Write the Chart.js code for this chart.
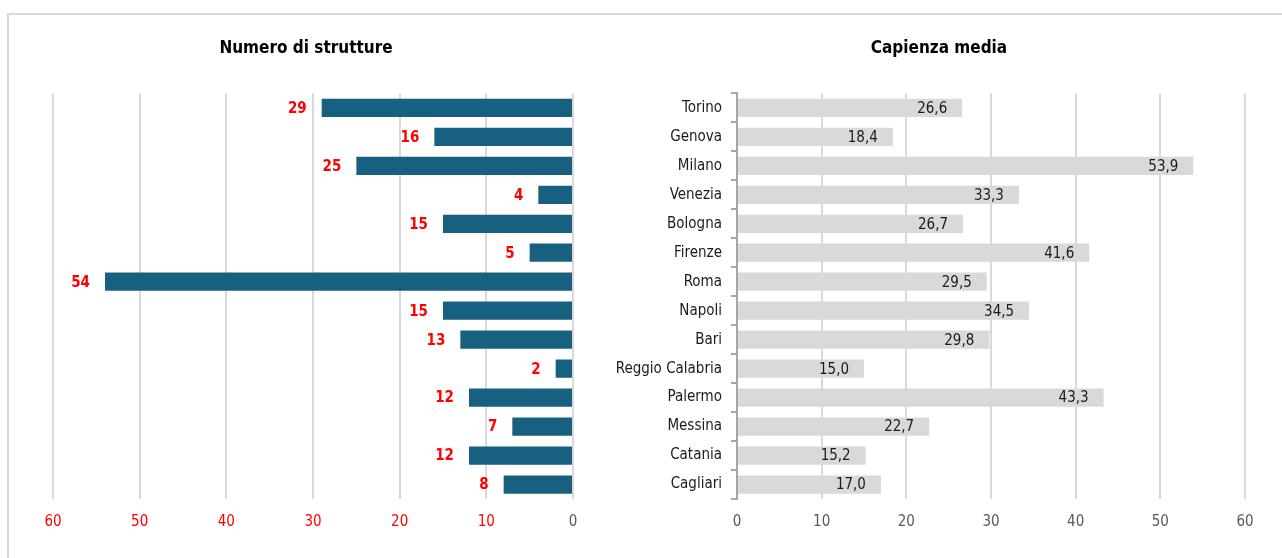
<!DOCTYPE html>
<html>
<head>
<meta charset="utf-8">
<script src="https://cdn.jsdelivr.net/npm/chart.js"></script>
<style>
  body { margin: 0; background: #fff; width: 1282px; height: 558px; overflow: hidden; position: relative; }
  #frame { position: absolute; left: 7px; top: 13px; width: 1300px; height: 600px; border: 2px solid #d9d9d9; box-sizing: border-box; }
  .box { position: absolute; top: 0; height: 558px; }
</style>
</head>
<body>
<div id="frame"></div>
<div class="box" style="left:0; width:600px"><canvas id="numChart" width="600" height="558"></canvas></div>
<div class="box" style="left:600px; width:682px"><canvas id="capChart" width="682" height="558"></canvas></div>
<script>
const cities = ["Torino", "Genova", "Milano", "Venezia", "Bologna", "Firenze", "Roma", "Napoli", "Bari", "Reggio Calabria", "Palermo", "Messina", "Catania", "Cagliari"];
const strutture = [29, 16, 25, 4, 15, 5, 54, 15, 13, 2, 12, 7, 12, 8];
const capienza = [26.6, 18.4, 53.9, 33.3, 26.7, 41.6, 29.5, 34.5, 29.8, 15.0, 43.3, 22.7, 15.2, 17.0];
const axisTicks = [0, 10, 20, 30, 40, 50, 60];

const FONT = "'Liberation Sans Narrow', 'Arial Narrow', 'DejaVu Sans Condensed', sans-serif";

// labels drawn next to each bar end
const valueLabels = {
  id: "valueLabels",
  afterDatasetsDraw(chart, args, opts) {
    const ctx = chart.ctx;
    const meta = chart.getDatasetMeta(0);
    ctx.save();
    ctx.font = opts.font;
    ctx.fillStyle = opts.color;
    ctx.textAlign = "right";
    ctx.textBaseline = "middle";
    meta.data.forEach((bar, i) => {
      const v = chart.data.datasets[0].data[i];
      ctx.fillText(opts.format(v), bar.x - opts.gap, bar.y + 1);
    });
    ctx.restore();
  }
};

// move the title centre to a given x
const titleShift = {
  id: "titleShift",
  afterLayout(chart, args, opts) {
    const t = chart.titleBlock;
    if (t) t.left = 2 * opts.center - t.right;
  }
};

new Chart(document.getElementById("numChart"), {
  type: "bar",
  data: {
    labels: cities,
    datasets: [{ data: strutture, backgroundColor: "#17607f", categoryPercentage: 1, barPercentage: 0.63 }]
  },
  options: {
    indexAxis: "y",
    responsive: false,
    animation: false,
    devicePixelRatio: 1,
    layout: { padding: { left: 53, right: 27, top: 0, bottom: 13 } },
    plugins: {
      legend: { display: false },
      tooltip: { enabled: false },
      title: {
        display: true, text: "Numero di strutture", color: "#000",
        font: { family: FONT, size: 17, weight: "bold" },
        padding: { top: 38, bottom: 35 }
      },
      titleShift: { center: 306 },
      valueLabels: {
        font: "bold 15px " + FONT, color: "#ff0000", gap: 15,
        format: v => String(v)
      }
    },
    scales: {
      x: {
        reverse: true, min: 0, max: 60,
        afterBuildTicks: s => { s.ticks = axisTicks.map(v => ({ value: v })); },
        grid: { color: "#d9d9d9", lineWidth: 2, drawTicks: false },
        border: { display: false },
        ticks: {
          padding: 14, maxRotation: 0,
          font: { family: FONT, size: 15 },
          color: c => c.tick.value === 0 ? "#595959" : "#ff0000"
        }
      },
      y: { display: false }
    }
  },
  plugins: [valueLabels, titleShift]
});

new Chart(document.getElementById("capChart"), {
  type: "bar",
  data: {
    labels: cities,
    datasets: [{ data: capienza, backgroundColor: "#d9d9d9", categoryPercentage: 1, barPercentage: 0.63 }]
  },
  options: {
    indexAxis: "y",
    responsive: false,
    animation: false,
    devicePixelRatio: 1,
    layout: { padding: { left: 0, right: 37, top: 0, bottom: 13 } },
    plugins: {
      legend: { display: false },
      tooltip: { enabled: false },
      title: {
        display: true, text: "Capienza media", color: "#000",
        font: { family: FONT, size: 17, weight: "bold" },
        padding: { top: 38, bottom: 35 }
      },
      titleShift: { center: 339 },
      valueLabels: {
        font: "15px " + FONT, color: "#1a1a1a", gap: 15,
        format: v => v.toFixed(1).replace(".", ",")
      }
    },
    scales: {
      x: {
        min: 0, max: 60,
        afterBuildTicks: s => { s.ticks = axisTicks.map(v => ({ value: v })); },
        grid: { color: c => c.tick.value === 0 ? "rgba(0,0,0,0)" : "#d9d9d9", lineWidth: 2, drawTicks: false },
        border: { display: false },
        ticks: { padding: 14, maxRotation: 0, font: { family: FONT, size: 15 }, color: "#595959" }
      },
      y: {
        afterFit: s => { s.width = 137; },
        grid: { display: true, drawOnChartArea: false, offset: true, color: "#a6a6a6", lineWidth: 2, tickLength: 6 },
        border: { display: true, color: "#a6a6a6", width: 2 },
        ticks: { padding: 9, autoSkip: false, font: { family: FONT, size: 15 }, color: "#1a1a1a" }
      }
    }
  },
  plugins: [valueLabels, titleShift]
});
</script>
</body>
</html>
